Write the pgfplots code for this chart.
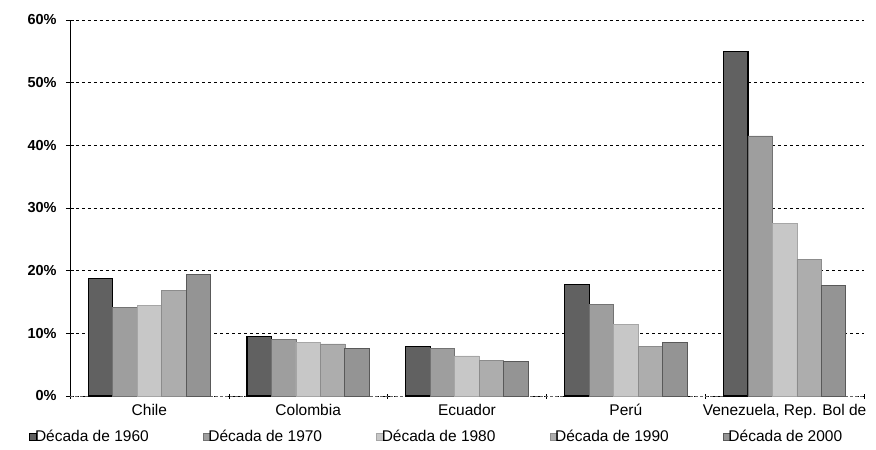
\documentclass[border=0pt]{standalone}
\usepackage{fontspec}
\setmainfont{Liberation Sans}
\usepackage{pgfplots}
\pgfplotsset{compat=1.18}

\definecolor{dec60}{gray}{0.38}
\definecolor{dec70}{gray}{0.62}
\definecolor{dec80}{gray}{0.78}
\definecolor{dec90}{gray}{0.68}
\definecolor{dec00}{gray}{0.58}

\begin{document}
\fontsize{15.5}{18}\selectfont
\begin{tikzpicture}
\begin{axis}[
  scale only axis,
  width=794pt, height=376pt,
  ybar=0pt,
  bar width=0.154,
  xmin=-0.5, xmax=4.5,
  ymin=0, ymax=60,
  xtick={0,1,2,3,4},
  xticklabels={Chile, Colombia, Ecuador, Perú, {Venezuela, Rep. Bol de}},
  minor xtick={-0.5,0.5,1.5,2.5,3.5,4.5},
  major x tick style={draw=none},
  minor x tick style={black, thin},
  minor tick length=5pt,
  ytick={0,10,20,30,40,50,60},
  yticklabel={\pgfmathprintnumber{\tick}\%},
  yticklabel style={font=\fontsize{14.5}{17}\selectfont\bfseries, xshift=-4pt},
  /pgf/number format/assume math mode=true,
  major tick length=8pt,
  tick align=center,
  y tick style={black, thin},
  axis x line*=bottom,
  axis y line*=left,
  x axis line style={densely dashed, black!60},
  y axis line style={black, line width=0.9pt},
  ymajorgrids=true,
  grid style={dashed, black, line width=0.6pt},
  xticklabel style={font=\fontsize{15.5}{18}\selectfont, yshift=1pt},
  legend style={draw=none, fill=none, at={(0.462,-0.109)}, anchor=center,
    font=\fontsize{15.5}{18}\selectfont, /tikz/every even column/.append style={column sep=52pt}},
  legend columns=5,
  legend image code/.code={\draw[#1, line width=0.6pt] (0pt,-3.5pt) rectangle (7pt,3.5pt);},
  legend cell align=left,
]
\addplot[fill=dec60, draw=black, line width=1.2pt] coordinates {(0,18.8) (1,9.5) (2,7.9) (3,17.8) (4,55.0)};
\addlegendentry{\hspace{-4pt}Década de 1960}
\addplot[fill=dec70, draw=black!55, line width=0.8pt] coordinates {(0,14.1) (1,9.0) (2,7.6) (3,14.6) (4,41.5)};
\addlegendentry{\hspace{-4pt}Década de 1970}
\addplot[fill=dec80, draw=black!35, line width=0.6pt] coordinates {(0,14.5) (1,8.5) (2,6.4) (3,11.4) (4,27.5)};
\addlegendentry{\hspace{-4pt}Década de 1980}
\addplot[fill=dec90, draw=black!45, line width=0.6pt] coordinates {(0,16.9) (1,8.3) (2,5.7) (3,7.9) (4,21.8)};
\addlegendentry{\hspace{-4pt}Década de 1990}
\addplot[fill=dec00, draw=black!65, line width=0.8pt] coordinates {(0,19.4) (1,7.6) (2,5.5) (3,8.5) (4,17.6)};
\addlegendentry{\hspace{-4pt}Década de 2000}
\end{axis}
\pgfresetboundingbox
\useasboundingbox (current axis.south west) ++(-70pt,-54pt) rectangle ++(876pt,450pt);
\end{tikzpicture}
\end{document}
